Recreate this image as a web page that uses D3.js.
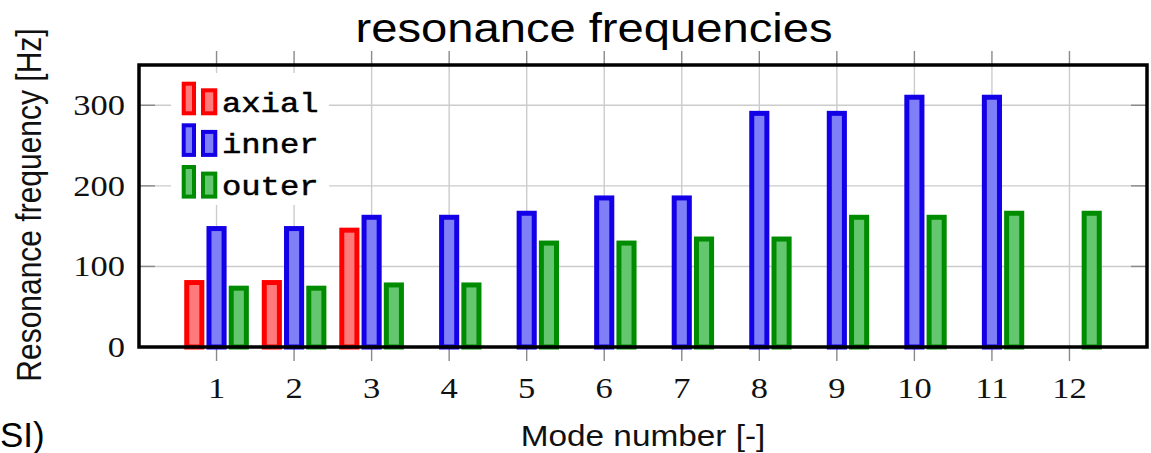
<!DOCTYPE html>
<html>
<head>
<meta charset="utf-8">
<script src="https://cdn.jsdelivr.net/npm/d3@7"></script>
<style>
  html, body { margin: 0; padding: 0; background: #fff; overflow: hidden; }
  svg { display: block; }
</style>
</head>
<body>
<svg id="chart" width="1151" height="453"></svg>
<script>
// ---- data ----
const modes = [1, 2, 3, 4, 5, 6, 7, 8, 9, 10, 11, 12];
const axial = [80, 80, 145, null, null, null, null, null, null, null, null, null];
const inner = [147, 147, 161, 161, 166, 185, 185, 290, 290, 310, 310, null];
const outer = [73, 73, 77, 77, 129, 129, 134, 134, 161, 161, 166, 166];
const yTickValues = [0, 100, 200, 300];
const seriesNames = ["axial", "inner", "outer"];
const titleText = "resonance frequencies";
const xLabel = "Mode number [-]";
const yLabel = "Resonance frequency [Hz]";

// ---- styles ----
const strokes = { axial: "#ff0000", inner: "#1400e6", outer: "#008c00" };
const fills = { axial: "#ff7b7b", inner: "#7f7ff8", outer: "#64c66e" };
const SX = 1.15; // horizontal stretch of the original rendering

const svg = d3.select("#chart");
const L = 139, R = 1147, T = 65, B = 347;

const x = d3.scaleLinear().domain([0, 13]).range([L, R]);
const y = d3.scaleLinear().domain([0, 350]).range([B, T]);
const step = x(2) - x(1);
const barW = step * 0.195;
const shift = step * 0.287;
const sw = 5;

function stretchText(sel, tx, ty, rot) {
  sel.attr("transform", `translate(${tx},${ty}) scale(${SX},1)` + (rot ? ` rotate(${rot})` : ""));
  return sel;
}

// grid
const grid = svg.append("g");
grid.selectAll("line.v").data(modes).join("line")
  .attr("x1", d => x(d)).attr("x2", d => x(d))
  .attr("y1", T).attr("y2", B)
  .attr("stroke", "#cccccc").attr("stroke-width", 1.4);
grid.selectAll("line.h").data(yTickValues.filter(v => v > 0)).join("line")
  .attr("x1", L).attr("x2", R)
  .attr("y1", d => y(d)).attr("y2", d => y(d))
  .attr("stroke", "#cccccc").attr("stroke-width", 1.4);

// ticks
const ticks = svg.append("g").attr("stroke", "#8a8a8a").attr("stroke-width", 1.4);
ticks.selectAll("line.xb").data(modes).join("line")
  .attr("x1", d => x(d)).attr("x2", d => x(d)).attr("y1", B).attr("y2", B + 14);
ticks.selectAll("line.xt").data(modes).join("line")
  .attr("x1", d => x(d)).attr("x2", d => x(d)).attr("y1", T - 14).attr("y2", T);
ticks.selectAll("line.yl").data(yTickValues).join("line")
  .attr("x1", L).attr("x2", L + 16).attr("y1", d => y(d)).attr("y2", d => y(d));
ticks.selectAll("line.yr").data(yTickValues).join("line")
  .attr("x1", R - 16).attr("x2", R).attr("y1", d => y(d)).attr("y2", d => y(d));

// bars
const series = [
  { name: "axial", values: axial, off: -1 },
  { name: "inner", values: inner, off: 0 },
  { name: "outer", values: outer, off: 1 }
];
series.forEach(s => {
  const pts = modes.map((m, i) => ({ m, v: s.values[i] })).filter(d => d.v != null);
  svg.append("g").selectAll("rect").data(pts).join("rect")
    .attr("x", d => x(d.m) + s.off * shift - barW / 2)
    .attr("width", barW)
    .attr("y", d => y(d.v))
    .attr("height", d => y(0) - y(d.v))
    .attr("fill", fills[s.name])
    .attr("stroke", strokes[s.name])
    .attr("stroke-width", sw);
});

// frame
svg.append("rect")
  .attr("x", L).attr("y", T).attr("width", R - L).attr("height", B - T)
  .attr("fill", "none").attr("stroke", "#000").attr("stroke-width", 3.5);

// tick labels
const tickFont = "'Liberation Serif', 'DejaVu Serif', serif";
svg.append("g").selectAll("text").data(yTickValues).join("text")
  .text(d => d)
  .attr("font-family", tickFont).attr("font-size", 30)
  .attr("text-anchor", "end").attr("fill", "#111")
  .each(function (d) { stretchText(d3.select(this), 125, y(d) + 10); });
svg.append("g").selectAll("text").data(modes).join("text")
  .text(d => d)
  .attr("font-family", tickFont).attr("font-size", 30)
  .attr("text-anchor", "middle").attr("fill", "#111")
  .each(function (d) { stretchText(d3.select(this), x(d), 398); });

// axis labels
const sans = "'Liberation Sans', Arial, sans-serif";
stretchText(svg.append("text").text(xLabel)
  .attr("font-family", sans).attr("font-size", 29)
  .attr("text-anchor", "middle").attr("fill", "#111"), (L + R) / 2, 446);
stretchText(svg.append("text").text(yLabel)
  .attr("font-family", sans).attr("font-size", 30)
  .attr("text-anchor", "middle").attr("fill", "#111"), 41, (T + B) / 2 - 1, -90);

// title
stretchText(svg.append("text").text(titleText)
  .attr("font-family", sans).attr("font-size", 41)
  .attr("text-anchor", "middle").attr("fill", "#000"), 594, 42);

// stray slide text at bottom-left
svg.append("text").text("SI)")
  .attr("x", 0).attr("y", 447)
  .attr("font-family", sans).attr("font-size", 35)
  .attr("fill", "#000");

// legend
const lg = svg.append("g");
lg.append("rect").attr("x", 171).attr("y", 73).attr("width", 158).attr("height", 132).attr("fill", "#fff");
const rowY = [111.7, 153.3, 195];
seriesNames.forEach((n, i) => {
  const by = rowY[i];
  lg.append("rect").attr("x", 183.7).attr("y", by - 28).attr("width", 10.3).attr("height", 29.6)
    .attr("fill", fills[n]).attr("stroke", strokes[n]).attr("stroke-width", 4);
  lg.append("rect").attr("x", 203).attr("y", by - 21.4).attr("width", 12.3).attr("height", 23)
    .attr("fill", fills[n]).attr("stroke", strokes[n]).attr("stroke-width", 4);
  stretchText(lg.append("text").text(n)
    .attr("font-family", "'Liberation Mono', 'DejaVu Sans Mono', monospace")
    .attr("font-size", 28).attr("fill", "#000")
    .attr("stroke", "#000").attr("stroke-width", 0.5), 222, by);
});
</script>
</body>
</html>
